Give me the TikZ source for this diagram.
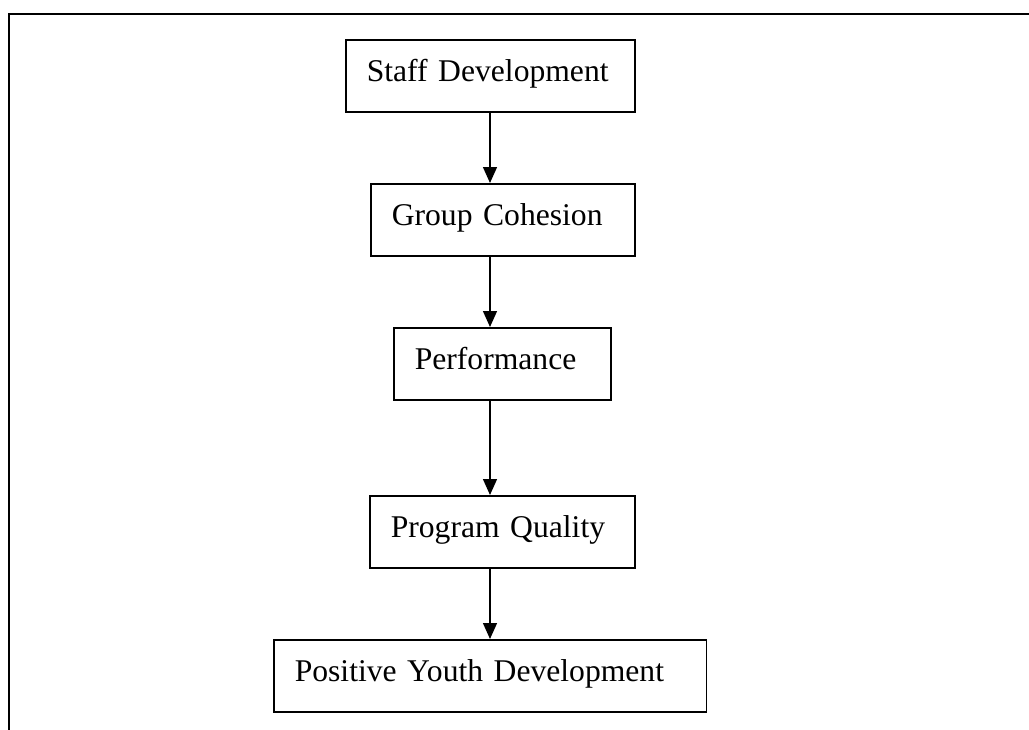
\documentclass[tikz,border=0pt]{standalone}
\usepackage{fontspec}
\setmainfont{Liberation Serif}
\usetikzlibrary{arrows.meta}

\begin{document}
\begin{tikzpicture}[x=0.02cm,y=-0.02cm,
   box/.style={draw,line width=0.9pt,anchor=north west,align=left,
               inner xsep=0.42cm,inner ysep=0pt,text height=0.84cm,text depth=0.6cm,
               font=\fontsize{18}{22}\selectfont}]
  \useasboundingbox (0,0) rectangle (1029,730);
  % open frame round the chain
  \draw[line width=1.1pt] (9,730) -- (9,14) -- (1029,14);
  \coordinate (ax) at (490,0);
  \node[box,text width=4.94cm] (sd) at (345,39) {Staff Development};
  \node[box,text width=4.44cm] (gc) at (370,183) {Group Cohesion};
  \node[box,text width=3.50cm] (pf) at (393,327) {Performance};
  \node[box,text width=4.46cm] (pq) at (369,495) {Program Quality};
  \node[box,text width=7.82cm] (pyd) at (273,639) {Positive Youth Development};
  \draw[-{Triangle[length=0.32cm,width=0.28cm]},line width=0.8pt] (sd.south -| ax) -- (gc.north -| ax);
  \draw[-{Triangle[length=0.32cm,width=0.28cm]},line width=0.8pt] (gc.south -| ax) -- (pf.north -| ax);
  \draw[-{Triangle[length=0.32cm,width=0.28cm]},line width=0.8pt] (pf.south -| ax) -- (pq.north -| ax);
  \draw[-{Triangle[length=0.32cm,width=0.28cm]},line width=0.8pt] (pq.south -| ax) -- (pyd.north -| ax);
\end{tikzpicture}
\end{document}
